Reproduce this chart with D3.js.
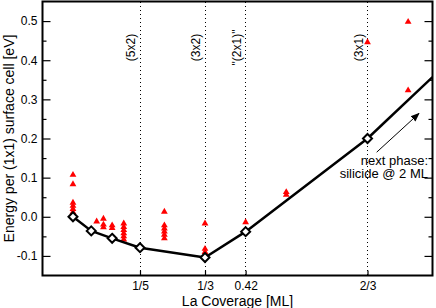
<!DOCTYPE html>
<html>
<head>
<meta charset="utf-8">
<script src="https://cdn.jsdelivr.net/npm/d3@7"></script>
<style>
body { margin: 0; background: #fff; }
svg text { font-family: "Liberation Sans", Arial, Helvetica, sans-serif; }
</style>
</head>
<body>
<script>
// hull (diamonds + black line)
var hullX = [1/16, 1/10, 1/7, 1/5, 1/3, 5/12, 2/3];
var hullE = [0.0, -0.036, -0.055, -0.079, -0.104, -0.038, 0.200];
// line keeps going past 2/3 toward the silicide phase
var tailX = [2/3, 0.8];
var tailE = [0.200, 0.357];

// other structures (red triangles)
var triX = [1/16, 1/16, 1/16, 1/16, 1/16, 1/16,
            1/9, 1/8, 1/8, 1/8, 1/7, 1/7,
            1/6, 1/6, 1/6, 1/6, 1/6, 1/6,
            1/4, 1/4, 1/4, 1/4, 1/4, 1/4,
            1/3, 1/3, 1/3, 5/12, 1/2, 1/2, 2/3, 3/4, 3/4];
var triE = [0.107, 0.083, 0.036, 0.028, 0.020, 0.012,
            -0.012, -0.005, -0.020, -0.027, -0.022, -0.029,
            -0.017, -0.026, -0.034, -0.042, -0.050, -0.058,
            0.013, -0.022, -0.030, -0.038, -0.046, -0.055,
            -0.017, -0.082, -0.090, -0.014, 0.063, 0.056, 0.446, 0.498, 0.323];

// phase lines
var phaseX = [1/5, 1/3, 5/12, 2/3];
var phaseLabels = ["(5x2)", "(3x2)", "\"(2x1)\"", "(3x1)"];

// axis ticks
var xTickVals = [1/5, 1/3, 5/12, 2/3];
var xTickLabels = ["1/5", "1/3", "0.42", "2/3"];
var yTickVals = [-0.1, 0.0, 0.1, 0.2, 0.3, 0.4, 0.5];
var yTickLabels = ["-0.1", "0.0", "0.1", "0.2", "0.3", "0.4", "0.5"];
var yMinorVals = [-0.05, 0.05, 0.15, 0.25, 0.35, 0.45];

var margin = {top: 1.5, right: 3.5, bottom: 32.5, left: 42.5};
var width = 436 - margin.left - margin.right,
    height = 308 - margin.top - margin.bottom;

var svg = d3.select("body").append("svg")
    .attr("width", 436)
    .attr("height", 308)
  .append("g")
    .attr("transform", "translate(" + margin.left + "," + margin.top + ")");

var xScale = d3.scaleLinear().domain([0, 0.8]).range([0, width]);
var yScale = d3.scaleLinear().domain([-0.15, 0.55]).range([height, 0]);

svg.append("defs").append("clipPath").attr("id", "clip")
  .append("rect").attr("width", width).attr("height", height);

// dotted phase lines
svg.selectAll(".phase")
    .data(phaseX)
    .enter().append("line")
    .attr("class", "phase")
    .attr("x1", function(d) { return xScale(d); })
    .attr("x2", function(d) { return xScale(d); })
    .attr("y1", 0)
    .attr("y2", height)
    .style("stroke", "#000")
    .style("stroke-width", 1)
    .style("stroke-dasharray", "1,3")
    .style("shape-rendering", "crispEdges");

svg.selectAll(".phase-label")
    .data(phaseX)
    .enter().append("text")
    .attr("class", "phase-label")
    .attr("transform", function(d) { return "translate(" + (xScale(d) - 5) + "," + 46 + ") rotate(-90)"; })
    .attr("text-anchor", "middle")
    .style("font-size", "12px")
    .text(function(d, i) { return phaseLabels[i]; });

// axes
function stripDomain(g) { g.select(".domain").remove(); }

svg.append("g")
    .attr("transform", "translate(0," + height + ")")
    .call(d3.axisBottom(xScale).tickValues(xTickVals)
        .tickFormat(function(d, i) { return xTickLabels[i]; })
        .tickSize(-5).tickPadding(6))
    .call(stripDomain);

svg.append("g")
    .call(d3.axisLeft(yScale).tickValues(yTickVals)
        .tickFormat(function(d, i) { return yTickLabels[i]; })
        .tickSize(-8).tickPadding(5))
    .call(stripDomain);

svg.append("g")
    .call(d3.axisLeft(yScale).tickValues(yMinorVals).tickFormat("").tickSize(-4))
    .call(stripDomain);

svg.append("g")
    .attr("transform", "translate(" + width + ",0)")
    .call(d3.axisRight(yScale).tickValues(yTickVals).tickFormat("").tickSize(-8))
    .call(stripDomain);

svg.append("g")
    .attr("transform", "translate(" + width + ",0)")
    .call(d3.axisRight(yScale).tickValues(yMinorVals).tickFormat("").tickSize(-4))
    .call(stripDomain);

svg.selectAll(".tick line").style("stroke", "#000").style("stroke-width", 1.2);
svg.selectAll(".tick text").style("font-size", "12px").style("fill", "#000")
    .style("font-family", "'Liberation Sans', Arial, sans-serif");

// axis titles
svg.append("text")
    .attr("x", width / 2)
    .attr("y", height + 30)
    .attr("text-anchor", "middle")
    .style("font-size", "14px")
    .text("La Coverage [ML]");

svg.append("text")
    .attr("transform", "translate(" + (13.5 - margin.left) + "," + (height / 2) + ") rotate(-90)")
    .attr("text-anchor", "middle")
    .style("font-size", "14px")
    .text("Energy per (1x1) surface cell [eV]");

// red triangles
var tri = d3.symbol().type(d3.symbolTriangle).size(20);
svg.selectAll(".tri")
    .data(triX)
    .enter().append("path")
    .attr("class", "tri")
    .attr("d", tri)
    .attr("transform", function(d, i) { return "translate(" + xScale(d) + "," + yScale(triE[i]) + ")"; })
    .style("fill", "#ff0000");

// hull line
var hullLine = d3.line()
    .x(function(d) { return xScale(d[0]); })
    .y(function(d) { return yScale(d[1]); });

svg.append("path")
    .datum(hullX.map(function(d, i) { return [d, hullE[i]]; }))
    .attr("d", hullLine)
    .style("fill", "none")
    .style("stroke", "#000")
    .style("stroke-width", 2.5)
    .style("stroke-linejoin", "round");

svg.append("path")
    .datum(tailX.map(function(d, i) { return [d, tailE[i]]; }))
    .attr("clip-path", "url(#clip)")
    .attr("d", hullLine)
    .style("fill", "none")
    .style("stroke", "#000")
    .style("stroke-width", 2.5);

// diamonds
svg.selectAll(".dia")
    .data(hullX)
    .enter().append("path")
    .attr("class", "dia")
    .attr("d", "M0,-4.5L4.5,0L0,4.5L-4.5,0Z")
    .attr("transform", function(d, i) { return "translate(" + xScale(d) + "," + yScale(hullE[i]) + ")"; })
    .style("fill", "#fff")
    .style("stroke", "#000")
    .style("stroke-width", 2);

// arrow + note
svg.append("defs").append("marker")
    .attr("id", "arrowhead")
    .attr("viewBox", "0 0 10 10")
    .attr("refX", 9).attr("refY", 5)
    .attr("markerWidth", 9).attr("markerHeight", 9)
    .attr("markerUnits", "userSpaceOnUse")
    .attr("orient", "auto")
  .append("path")
    .attr("d", "M0,1L10,5L0,9Z")
    .style("fill", "#000");

svg.append("line")
    .attr("x1", xScale(0.6855)).attr("y1", yScale(0.165))
    .attr("x2", xScale(0.7723)).attr("y2", yScale(0.264))
    .style("stroke", "#000")
    .style("stroke-width", 1)
    .attr("marker-end", "url(#arrowhead)");

svg.append("text")
    .attr("x", xScale(0.7908)).attr("y", yScale(0.133))
    .attr("text-anchor", "end")
    .style("font-size", "13px")
    .text("next phase:");

svg.append("text")
    .attr("x", xScale(0.7908)).attr("y", yScale(0.098))
    .attr("text-anchor", "end")
    .style("font-size", "13px")
    .text("silicide @ 2 ML");

// frame
svg.append("rect")
    .attr("width", width)
    .attr("height", height)
    .style("fill", "none")
    .style("stroke", "#000")
    .style("stroke-width", 2);
</script>
</body>
</html>
